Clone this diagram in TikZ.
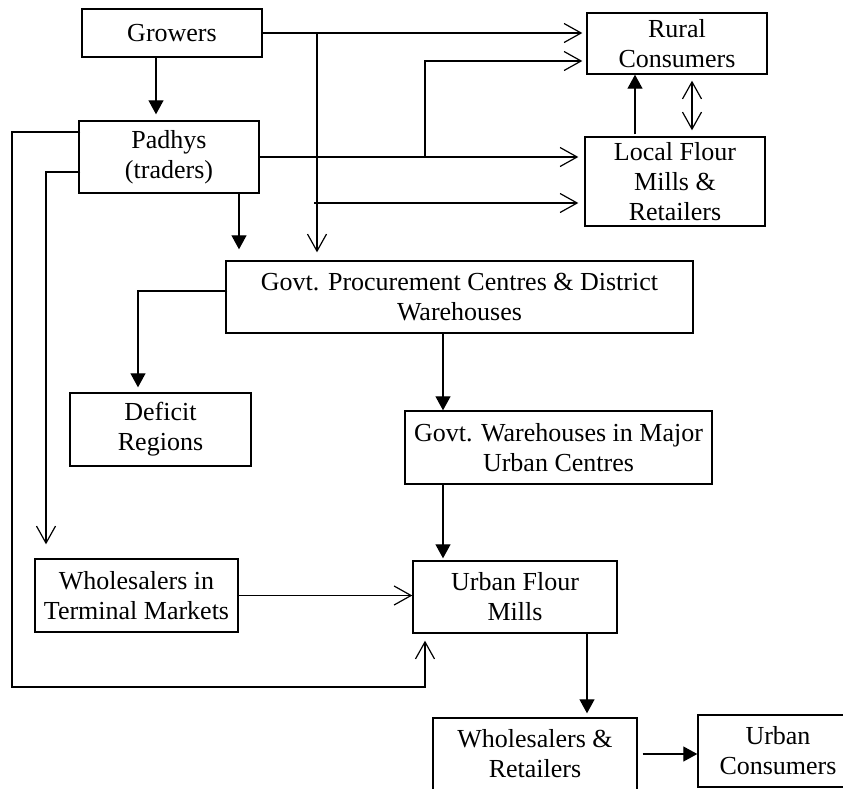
\documentclass[tikz,border=0pt]{standalone}
\usepackage{fontspec}
\setmainfont{Liberation Serif}
\usetikzlibrary{arrows.meta,positioning}

\tikzset{
    box/.style={draw, line width=1.4pt, align=center, inner sep=0pt,
        font=\fontsize{26}{30}\selectfont},
    flow/.style={line width=1.2pt},
    solidarrow/.style={flow, -{Triangle[length=14pt,width=15pt]}},
    openarrow/.style={flow, -{Straight Barb[length=17pt,width=19pt,line width=1.2pt]}}
}

\begin{document}
\begin{tikzpicture}[x=1pt, y=-1pt]
            \clip (0,0) rectangle (843,788);

            % boxes
            \node [box, minimum width=180pt, minimum height=48pt] (growers) at (172,33) {Growers};
            \node [box, minimum width=180pt, minimum height=72pt] (padhys) at (169,157) {Padhys\\(traders)};
            \node [box, minimum width=180pt, minimum height=61pt] (rural) at (677,43.5) {Rural\\Consumers};
            \node [box, minimum width=180pt, minimum height=89pt] (local) at (675,181.5) {Local Flour\\Mills \&\\Retailers};
            \node [box, minimum width=467pt, minimum height=72pt] (govt) at (459.5,297) {Govt. Procurement Centres \& District\\Warehouses};
            \node [box, minimum width=181pt, minimum height=73pt] (deficit) at (160.5,429.5) {Deficit\\Regions};
            \node [box, minimum width=307pt, minimum height=73pt] (urbanwh) at (558.5,447.5) {Govt. Warehouses in Major\\Urban Centres};
            \node [box, minimum width=203pt, minimum height=73pt] (terminal) at (136.5,595.5) {Wholesalers in\\Terminal Markets};
            \node [box, minimum width=204pt, minimum height=72pt] (urbanmills) at (515,597) {Urban Flour\\Mills};
            \node [box, minimum width=204pt, minimum height=72pt] (wholesale) at (535,754) {Wholesalers \&\\Retailers};
            \node [box, minimum width=160pt, minimum height=72pt] (urbancons) at (778,751) {Urban\\Consumers};

            % junctions on the lines
            \coordinate (split) at (317,33);
            \coordinate (fork) at (425,157);
            \coordinate (tap) at (314,203);
            \coordinate (loopcorner) at (12,687);

            % connectors
            \draw [solidarrow, shorten >=6pt] ([xshift=-16pt]growers.south) -- ([xshift=-13pt]padhys.north);
            \draw [openarrow, shorten >=4pt] (growers.east) -- (growers.east -| rural.west);
            \draw [openarrow, shorten >=8pt] (split) -- (split |- govt.north);
            \draw [openarrow, shorten >=6pt] (padhys.east) -- (padhys.east -| local.west);
            \draw [openarrow, shorten >=4pt] (fork) |- ([yshift=-17.5pt]rural.west);
            \draw [openarrow, shorten >=6pt] (tap) -- ([yshift=-21.5pt]local.west);
            \draw [solidarrow] ([xshift=-40pt,yshift=2pt]local.north) -- ([xshift=-42pt]rural.south);
            \draw [flow, {Straight Barb[length=17pt,width=19pt,line width=1.2pt]}-{Straight Barb[length=17pt,width=19pt,line width=1.2pt]}, shorten <=6pt, shorten >=6pt]
                ([xshift=15pt]rural.south) -- ([xshift=17pt]local.north);
            \draw [solidarrow, shorten >=11pt] ([xshift=70pt]padhys.south) -- ([xshift=70pt]padhys.south |- govt.north);
            \draw [solidarrow, shorten >=5pt] ([xshift=2pt,yshift=6pt]govt.west) -| ([xshift=-22.5pt]deficit.north);
            \draw [solidarrow] ([xshift=-16.5pt]govt.south) -- ([xshift=-16.5pt]govt.south |- urbanwh.north);
            \draw [solidarrow, shorten >=2pt] ([xshift=-115.5pt]urbanwh.south) -- ([xshift=-115.5pt]urbanwh.south |- urbanmills.north);
            \draw [openarrow, shorten >=7pt] ([xshift=2pt,yshift=25pt]padhys.west) -| (loopcorner) -| ([xshift=-90pt]urbanmills.south);
            \draw [openarrow, shorten >=14pt] ([xshift=2pt,yshift=-15pt]padhys.west) -| ([xshift=-90.5pt]terminal.north);
            \draw [openarrow] (terminal.east) -- (terminal.east -| urbanmills.west);
            \draw [solidarrow, shorten >=4pt] ([xshift=72pt]urbanmills.south) -- ([xshift=72pt]urbanmills.south |- wholesale.north);
            \draw [solidarrow, shorten <=5pt] (wholesale.east) -- (wholesale.east -| urbancons.west);
\end{tikzpicture}
\end{document}
